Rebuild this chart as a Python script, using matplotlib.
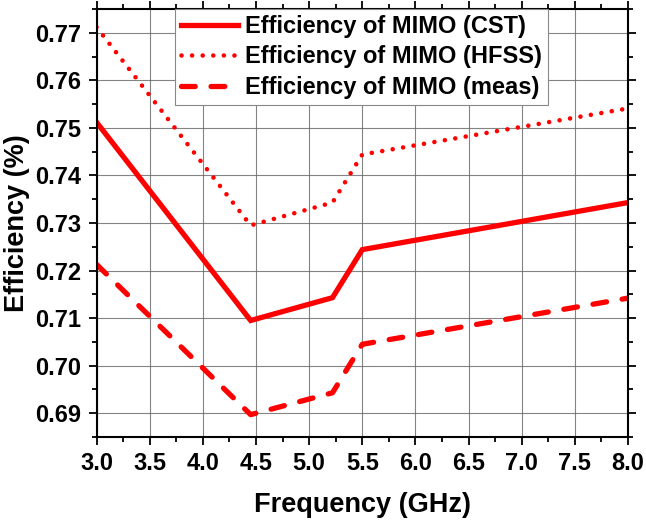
import numpy as np
import matplotlib.pyplot as plt
from matplotlib.ticker import MultipleLocator

plt.rcParams['font.family'] = ['Liberation Sans', 'DejaVu Sans']
plt.rcParams['font.weight'] = 'bold'

### Data ###
freq = [3.0, 4.45, 5.22, 5.5, 8.0]
eff_cst = [0.7512, 0.7095, 0.7143, 0.7244, 0.7343]
eff_hfss = [0.7712, 0.7295, 0.7343, 0.7444, 0.7541]
eff_meas = [0.7213, 0.6897, 0.6943, 0.7045, 0.7142]
labels = ["Efficiency of MIMO (CST)", "Efficiency of MIMO (HFSS)", "Efficiency of MIMO (meas)"]

### Plot ###
fig = plt.figure(figsize=(6.46, 5.23), dpi=100)
ax = fig.add_axes([96.5/646, 1 - 437/523, (628 - 96.5)/646, (437 - 9)/523])

ax.plot(freq, eff_cst, color='#ff0000', lw=3.8, solid_joinstyle='miter', label=labels[0])
ax.plot(freq, eff_hfss, color='#ff0000', lw=3.3, linestyle=(0, (0.01, 2.3)),
        dash_capstyle='round', label=labels[1])
ax.plot(freq, eff_meas, color='#ff0000', lw=3.8, linestyle=(0, (2.6, 3.0)),
        dash_capstyle='round', label=labels[2])

ax.set_xlim(3.0, 8.0)
ax.set_ylim(0.685, 0.775)
ax.xaxis.set_major_locator(MultipleLocator(0.5))
ax.xaxis.set_minor_locator(MultipleLocator(0.25))
ax.yaxis.set_major_locator(MultipleLocator(0.01))
ax.yaxis.set_minor_locator(MultipleLocator(0.005))
ax.xaxis.set_major_formatter(plt.FormatStrFormatter('%.1f'))
ax.yaxis.set_major_formatter(plt.FormatStrFormatter('%.2f'))
ax.set_yticks([0.69, 0.70, 0.71, 0.72, 0.73, 0.74, 0.75, 0.76, 0.77])

ax.tick_params(which='both', direction='out', top=True, right=True, width=1.3)
ax.tick_params(which='major', length=6, labelsize=17, pad=5)
ax.tick_params(which='minor', length=3.5)
for s in ax.spines.values():
	s.set_linewidth(1.5)

ax.grid(True, which='major', color='#666666', lw=0.8, alpha=0.8)
ax.set_axisbelow(True)

ax.set_xlabel("Frequency (GHz)", fontsize=19.5, fontweight='bold', labelpad=12)
ax.set_ylabel("Efficiency (%)", fontsize=19.5, fontweight='bold', labelpad=4)

leg = ax.legend(loc='upper right', bbox_to_anchor=(0.849, 1.0), fontsize=17,
                handlelength=2.4, frameon=True, fancybox=False, borderpad=0.25,
                labelspacing=0.32, handletextpad=0.3, borderaxespad=0)
leg.get_frame().set_edgecolor('#888888')
leg.get_frame().set_linewidth(0.8)
leg.get_frame().set_alpha(1)

fig.savefig("out.png", dpi=100)
